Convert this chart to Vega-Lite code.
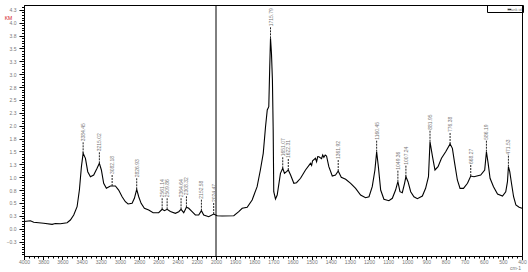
{
  "$schema": "https://vega.github.io/schema/vega-lite/v6.json",
  "width": 498,
  "height": 251,
  "autosize": "none",
  "padding": {"left": 24, "top": 5, "right": 6, "bottom": 16},
  "background": "white",
  "config": {
    "view": {"stroke": "black", "strokeWidth": 1},
    "font": "Liberation Sans",
    "axis": {"domainColor": "black", "tickColor": "black", "grid": false, "labelFont": "Liberation Sans", "labelFontSize": 5, "labelColor": "#777", "tickWidth": 1, "domainWidth": 1, "labelOverlap": false, "labelFlush": false}
  },
  "datasets": {
    "spec": [
      {"wn": 4000, "a": 0.140}, {"wn": 3933, "a": 0.155}, {"wn": 3899, "a": 0.126}, {"wn": 3795, "a": 0.105},
      {"wn": 3707, "a": 0.085}, {"wn": 3673, "a": 0.101}, {"wn": 3621, "a": 0.097}, {"wn": 3551, "a": 0.117},
      {"wn": 3517, "a": 0.169}, {"wn": 3482, "a": 0.266}, {"wn": 3447, "a": 0.427}, {"wn": 3423, "a": 0.751},
      {"wn": 3402, "a": 1.204}, {"wn": 3384, "a": 1.464}, {"wn": 3360, "a": 1.367}, {"wn": 3336, "a": 1.107},
      {"wn": 3308, "a": 1.010}, {"wn": 3274, "a": 1.043}, {"wn": 3239, "a": 1.173}, {"wn": 3215, "a": 1.270},
      {"wn": 3194, "a": 1.140}, {"wn": 3170, "a": 0.882}, {"wn": 3142, "a": 0.784}, {"wn": 3100, "a": 0.829},
      {"wn": 3048, "a": 0.829}, {"wn": 3014, "a": 0.751}, {"wn": 2978, "a": 0.621}, {"wn": 2944, "a": 0.524},
      {"wn": 2916, "a": 0.480}, {"wn": 2874, "a": 0.493}, {"wn": 2850, "a": 0.590}, {"wn": 2826, "a": 0.765},
      {"wn": 2805, "a": 0.621}, {"wn": 2780, "a": 0.493}, {"wn": 2746, "a": 0.396}, {"wn": 2701, "a": 0.363},
      {"wn": 2655, "a": 0.311}, {"wn": 2597, "a": 0.311}, {"wn": 2561, "a": 0.377}, {"wn": 2537, "a": 0.350},
      {"wn": 2509, "a": 0.377}, {"wn": 2475, "a": 0.334}, {"wn": 2423, "a": 0.299}, {"wn": 2388, "a": 0.330},
      {"wn": 2364, "a": 0.377}, {"wn": 2336, "a": 0.311}, {"wn": 2308, "a": 0.416}, {"wn": 2284, "a": 0.396},
      {"wn": 2249, "a": 0.330}, {"wn": 2215, "a": 0.266}, {"wn": 2180, "a": 0.266}, {"wn": 2152, "a": 0.350},
      {"wn": 2128, "a": 0.266}, {"wn": 2076, "a": 0.233}, {"wn": 2024, "a": 0.285}, {"wn": 1994, "a": 0.252},
      {"wn": 1968, "a": 0.247}, {"wn": 1907, "a": 0.252}, {"wn": 1881, "a": 0.330}, {"wn": 1863, "a": 0.396},
      {"wn": 1837, "a": 0.416}, {"wn": 1811, "a": 0.557}, {"wn": 1785, "a": 0.816}, {"wn": 1768, "a": 1.140},
      {"wn": 1753, "a": 1.464}, {"wn": 1741, "a": 1.981}, {"wn": 1732, "a": 2.305}, {"wn": 1724, "a": 2.369},
      {"wn": 1719, "a": 3.146}, {"wn": 1715, "a": 3.697}, {"wn": 1710, "a": 3.406}, {"wn": 1705, "a": 2.887},
      {"wn": 1701, "a": 1.917}, {"wn": 1698, "a": 0.718}, {"wn": 1689, "a": 0.577}, {"wn": 1680, "a": 0.654},
      {"wn": 1663, "a": 1.076}, {"wn": 1651, "a": 1.173}, {"wn": 1642, "a": 1.076}, {"wn": 1631, "a": 1.107},
      {"wn": 1622, "a": 1.140}, {"wn": 1610, "a": 1.043}, {"wn": 1593, "a": 0.882}, {"wn": 1579, "a": 0.893},
      {"wn": 1558, "a": 0.979}, {"wn": 1532, "a": 1.140}, {"wn": 1506, "a": 1.270}, {"wn": 1500, "a": 1.230},
      {"wn": 1495, "a": 1.320}, {"wn": 1480, "a": 1.367}, {"wn": 1474, "a": 1.300}, {"wn": 1468, "a": 1.400},
      {"wn": 1462, "a": 1.398}, {"wn": 1448, "a": 1.360}, {"wn": 1442, "a": 1.430}, {"wn": 1436, "a": 1.386},
      {"wn": 1429, "a": 1.430}, {"wn": 1422, "a": 1.412}, {"wn": 1410, "a": 1.204}, {"wn": 1392, "a": 1.023},
      {"wn": 1375, "a": 1.043}, {"wn": 1361, "a": 1.120}, {"wn": 1345, "a": 0.998}, {"wn": 1322, "a": 0.959},
      {"wn": 1296, "a": 0.882}, {"wn": 1270, "a": 0.784}, {"wn": 1244, "a": 0.654}, {"wn": 1218, "a": 0.602},
      {"wn": 1200, "a": 0.621}, {"wn": 1183, "a": 0.816}, {"wn": 1169, "a": 1.140}, {"wn": 1160, "a": 1.495},
      {"wn": 1151, "a": 1.204}, {"wn": 1139, "a": 0.751}, {"wn": 1122, "a": 0.571}, {"wn": 1096, "a": 0.544},
      {"wn": 1078, "a": 0.590}, {"wn": 1061, "a": 0.751}, {"wn": 1049, "a": 0.913}, {"wn": 1038, "a": 0.718},
      {"wn": 1026, "a": 0.699}, {"wn": 1014, "a": 0.882}, {"wn": 1007, "a": 1.010}, {"wn": 996, "a": 0.913},
      {"wn": 982, "a": 0.718}, {"wn": 965, "a": 0.621}, {"wn": 947, "a": 0.583}, {"wn": 921, "a": 0.635},
      {"wn": 904, "a": 0.784}, {"wn": 889, "a": 1.010}, {"wn": 881, "a": 1.689}, {"wn": 868, "a": 1.398},
      {"wn": 855, "a": 1.140}, {"wn": 839, "a": 1.204}, {"wn": 821, "a": 1.367}, {"wn": 799, "a": 1.495},
      {"wn": 776, "a": 1.645}, {"wn": 764, "a": 1.561}, {"wn": 752, "a": 1.270}, {"wn": 738, "a": 0.946},
      {"wn": 724, "a": 0.784}, {"wn": 706, "a": 0.784}, {"wn": 685, "a": 0.882}, {"wn": 668, "a": 1.023},
      {"wn": 651, "a": 1.010}, {"wn": 616, "a": 1.043}, {"wn": 595, "a": 1.140}, {"wn": 586, "a": 1.495},
      {"wn": 577, "a": 1.270}, {"wn": 567, "a": 0.979}, {"wn": 549, "a": 0.816}, {"wn": 528, "a": 0.674},
      {"wn": 502, "a": 0.635}, {"wn": 485, "a": 0.718}, {"wn": 476, "a": 0.913}, {"wn": 471, "a": 1.204},
      {"wn": 464, "a": 1.107}, {"wn": 455, "a": 0.882}, {"wn": 444, "a": 0.621}, {"wn": 432, "a": 0.460},
      {"wn": 415, "a": 0.416}, {"wn": 400, "a": 0.396}
    ],
    "peaks": [
      {"wn": 3384, "a": 1.464, "label": "3384.45"},
      {"wn": 3215, "a": 1.270, "label": "3215.02"},
      {"wn": 3082, "a": 0.829, "label": "3082.18"},
      {"wn": 2826, "a": 0.765, "label": "2826.93"},
      {"wn": 2561, "a": 0.377, "label": "2561.14"},
      {"wn": 2509, "a": 0.377, "label": "2509.86"},
      {"wn": 2364, "a": 0.377, "label": "2364.64"},
      {"wn": 2308, "a": 0.416, "label": "2308.32"},
      {"wn": 2152, "a": 0.350, "label": "2152.58"},
      {"wn": 2024, "a": 0.285, "label": "2024.47"},
      {"wn": 1715, "a": 3.697, "label": "1715.79"},
      {"wn": 1651, "a": 1.173, "label": "1651.07"},
      {"wn": 1622, "a": 1.140, "label": "1622.31"},
      {"wn": 1361, "a": 1.120, "label": "1361.92"},
      {"wn": 1160, "a": 1.495, "label": "1160.45"},
      {"wn": 1049, "a": 0.913, "label": "1049.36"},
      {"wn": 1007, "a": 1.010, "label": "1007.24"},
      {"wn": 881, "a": 1.689, "label": "881.95"},
      {"wn": 776, "a": 1.645, "label": "776.38"},
      {"wn": 668, "a": 1.023, "label": "668.27"},
      {"wn": 586, "a": 1.495, "label": "586.19"},
      {"wn": 471, "a": 1.204, "label": "471.53"}
    ],
    "brk": [{"wn": 2000}]
  },
  "resolve": {"scale": {"x": "shared", "y": "shared"}, "axis": {"x": "independent", "y": "independent"}},
  "layer": [
    {
      "data": {"name": "spec"},
      "mark": {"type": "line", "strokeWidth": 1.1, "interpolate": "linear"},
      "encoding": {
        "x": {
          "field": "wn", "type": "quantitative",
          "scale": {"domain": [4000, 2000, 400], "range": [0, 192, 498], "zero": false, "nice": false},
          "axis": {
            "orient": "bottom",
            "title": "cm-1", "titleX": 491, "titleY": 11, "titleAlign": "center", "titleBaseline": "middle",
            "titleFontSize": 5, "titleFontWeight": "normal", "titleColor": "#777",
            "values": [4000,3800,3600,3400,3200,3000,2800,2600,2400,2200,2000,1900,1800,1700,1600,1500,1400,1300,1200,1100,1000,900,800,700,600,500,400],
            "format": "d", "tickSize": 3.5, "labelPadding": 0
          }
        },
        "y": {
          "field": "a", "type": "quantitative",
          "scale": {"domain": [-0.53, 4.344], "zero": false, "nice": false},
          "axis": {
            "orient": "left",
            "title": "KM", "titleAngle": 0, "titleX": -16, "titleY": 12, "titleAlign": "center", "titleBaseline": "middle",
            "titleColor": "#d01010", "titleFontSize": 5, "titleFontWeight": "normal",
            "values": [-0.25,0,0.25,0.5,0.75,1,1.25,1.5,1.75,2,2.25,2.5,2.75,3,3.25,3.5,3.75,4,4.25],
            "format": ".1f", "tickSize": 5, "labelPadding": 3
          }
        },
        "color": {
          "datum": "Blank id",
          "scale": {"range": ["black"]},
          "legend": {
            "orient": "none", "legendX": 463, "legendY": 0, "title": null,
            "strokeColor": "black", "padding": 0.5, "labelFontSize": 4, "labelColor": "#777",
            "symbolType": "M-0.5,0H0.5", "symbolSize": 49, "symbolStrokeWidth": 1,
            "symbolOffset": 18, "labelOffset": -6, "cornerRadius": 0
          }
        }
      }
    },
    {
      "data": {"name": "brk"},
      "mark": {"type": "rule", "color": "black", "strokeWidth": 1},
      "encoding": {
        "x": {
          "field": "wn", "type": "quantitative",
          "axis": {
            "orient": "bottom", "title": null, "labels": false, "domain": false, "tickSize": 2,
            "values": [3950,3900,3850,3750,3700,3650,3550,3500,3450,3350,3300,3250,3150,3100,3050,2950,2900,2850,2750,2700,2650,2550,2500,2450,2350,2300,2250,2150,2100,2050,1975,1950,1925,1875,1850,1825,1775,1750,1725,1675,1650,1625,1575,1550,1525,1475,1450,1425,1375,1350,1325,1275,1250,1225,1175,1150,1125,1075,1050,1025,975,950,925,875,850,825,775,750,725,675,650,625,575,550,525,475,450,425]
          }
        }
      }
    },
    {
      "data": {"name": "peaks"},
      "mark": {"type": "rule", "y2Offset": -11, "strokeDash": [2, 1], "color": "#222", "strokeWidth": 1},
      "encoding": {
        "x": {"field": "wn", "type": "quantitative", "axis": null},
        "y": {
          "field": "a", "type": "quantitative",
          "axis": {
            "orient": "left", "title": null, "labels": false, "domain": false, "tickSize": 2.5,
            "values": [-0.5,-0.45,-0.4,-0.35,-0.3,-0.2,-0.15,-0.1,-0.05,0.05,0.1,0.15,0.2,0.3,0.35,0.4,0.45,0.55,0.6,0.65,0.7,0.8,0.85,0.9,0.95,1.05,1.1,1.15,1.2,1.3,1.35,1.4,1.45,1.55,1.6,1.65,1.7,1.8,1.85,1.9,1.95,2.05,2.1,2.15,2.2,2.3,2.35,2.4,2.45,2.55,2.6,2.65,2.7,2.8,2.85,2.9,2.95,3.05,3.1,3.15,3.2,3.3,3.35,3.4,3.45,3.55,3.6,3.65,3.7,3.8,3.85,3.9,3.95,4.05,4.1,4.15,4.2,4.3]
          }
        },
        "y2": {"field": "a"}
      }
    },
    {
      "data": {"name": "peaks"},
      "mark": {"type": "text", "angle": 270, "align": "left", "baseline": "middle", "dx": 12, "fontSize": 5, "color": "#777"},
      "encoding": {
        "x": {"field": "wn", "type": "quantitative", "axis": null},
        "y": {"field": "a", "type": "quantitative", "axis": null},
        "text": {"field": "label"}
      }
    }
  ]
}
